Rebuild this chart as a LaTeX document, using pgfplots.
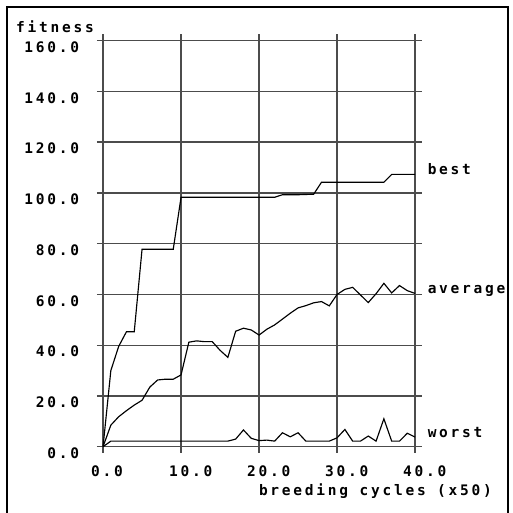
\documentclass[border=0pt]{standalone}
\usepackage{fontspec}
\usepackage{pgfplots}
\pgfplotsset{compat=1.18}
\newfontfamily\pf{DejaVu Sans Mono Bold}[LetterSpace=19]
\newcommand\cf{\pf\fontsize{14.5pt}{16pt}\selectfont}
\begin{document}
\begin{tikzpicture}
\useasboundingbox (0,0) rectangle (512pt,513pt);
\draw[line width=2pt] (7pt,-1pt) -- (7pt,506pt) -- (507.5pt,506pt) -- (507.5pt,-1pt);
\begin{axis}[
  at={(96.8pt,60.2pt)}, anchor=south west,
  scale only axis, width=325.3pt, height=418.7pt,
  xmin=-0.8, xmax=40.9, ymin=-2.4, ymax=162.6,
  xtick={0,10,20,30,40}, ytick={0,20,40,60,80,100,120,140,160},
  grid=major, major grid style={black!70, line width=1.4pt},
  axis line style={draw=none}, major tick length=0pt,
  clip=false,
  /pgf/number format/assume math mode=true,
  /pgf/number format/fixed, /pgf/number format/fixed zerofill,
  /pgf/number format/precision=1,
  tick label style={font=\cf, inner sep=0pt},
  yticklabel style={anchor=base east, xshift=-17.6pt, yshift=-11.6pt},
  xticklabel style={anchor=base west, xshift=-12.2pt, yshift=-23.2pt},
  xlabel={breeding cycles (x50)}, ylabel={fitness},
  xlabel style={font=\cf, inner sep=0pt, anchor=base west, at={(axis description cs:0.498,-0.1008)}},
  ylabel style={font=\cf, inner sep=0pt, rotate=-90, anchor=base west, at={(axis description cs:-0.2484,1.0043)}},
]
\addplot[black, line width=1.15pt, mark=none] coordinates {(0,0)(1,30)(2,39.5)(3,45.3)(4,45.3)(5,77.8)(6,77.8)(7,77.8)(8,77.8)(9,77.8)
 (10,98.3)(11,98.3)(12,98.3)(13,98.3)(14,98.3)(15,98.3)(16,98.3)(17,98.3)(18,98.3)(19,98.3)(20,98.3)(21,98.3)(22,98.3)
 (23,99.3)(24,99.3)(25,99.3)(26,99.4)(27,99.5)(28,104.2)(29,104.2)(30,104.2)(31,104.2)(32,104.2)(33,104.2)(34,104.2)(35,104.2)(36,104.2)
 (37,107.3)(38,107.3)(39,107.3)(40,107.3)};
\addplot[black, line width=1.15pt, mark=none] coordinates {(0,0)(1,8.5)(2,11.8)(3,14.2)(4,16.4)(5,18.3)(6,23.5)(7,26.3)(8,26.6)(9,26.6)(10,28.3)
 (11,41.2)(12,41.7)(13,41.4)(14,41.4)(15,38)(16,35.2)(17,45.5)(18,46.7)(19,46)(20,44)(21,46.3)(22,48)(23,50.3)(24,52.6)
 (25,54.7)(26,55.6)(27,56.7)(28,57.2)(29,55.5)(30,60)(31,62)(32,62.8)(33,59.8)(34,56.8)(35,60.3)(36,64.4)(37,60.6)(38,63.5)(39,61.5)(40,60.4)};
\addplot[black, line width=1.15pt, mark=none] coordinates {(0,0)(1,2.2)(2,2.2)(3,2.2)(4,2.2)(5,2.2)(6,2.2)(7,2.2)(8,2.2)(9,2.2)(10,2.2)(11,2.2)(12,2.2)(13,2.2)(14,2.2)(15,2.2)(16,2.2)
 (17,3)(18,6.6)(19,3.3)(20,2.4)(21,2.6)(22,2.2)(23,5.5)(24,3.9)(25,5.5)(26,2.2)(27,2.2)(28,2.2)(29,2.2)(30,3.5)(31,6.8)(32,2.2)(33,2.2)(34,4.2)(35,2.2)
 (36,11)(37,2.2)(38,2.2)(39,5.3)(40,3.8)};
\node[font=\cf, inner sep=0pt, anchor=base west] at (axis cs:41.6,107.3) {best};
\node[font=\cf, inner sep=0pt, anchor=base west] at (axis cs:41.6,60.4) {average};
\node[font=\cf, inner sep=0pt, anchor=base west] at (axis cs:41.6,3.8) {worst};
\end{axis}
\end{tikzpicture}
\end{document}
